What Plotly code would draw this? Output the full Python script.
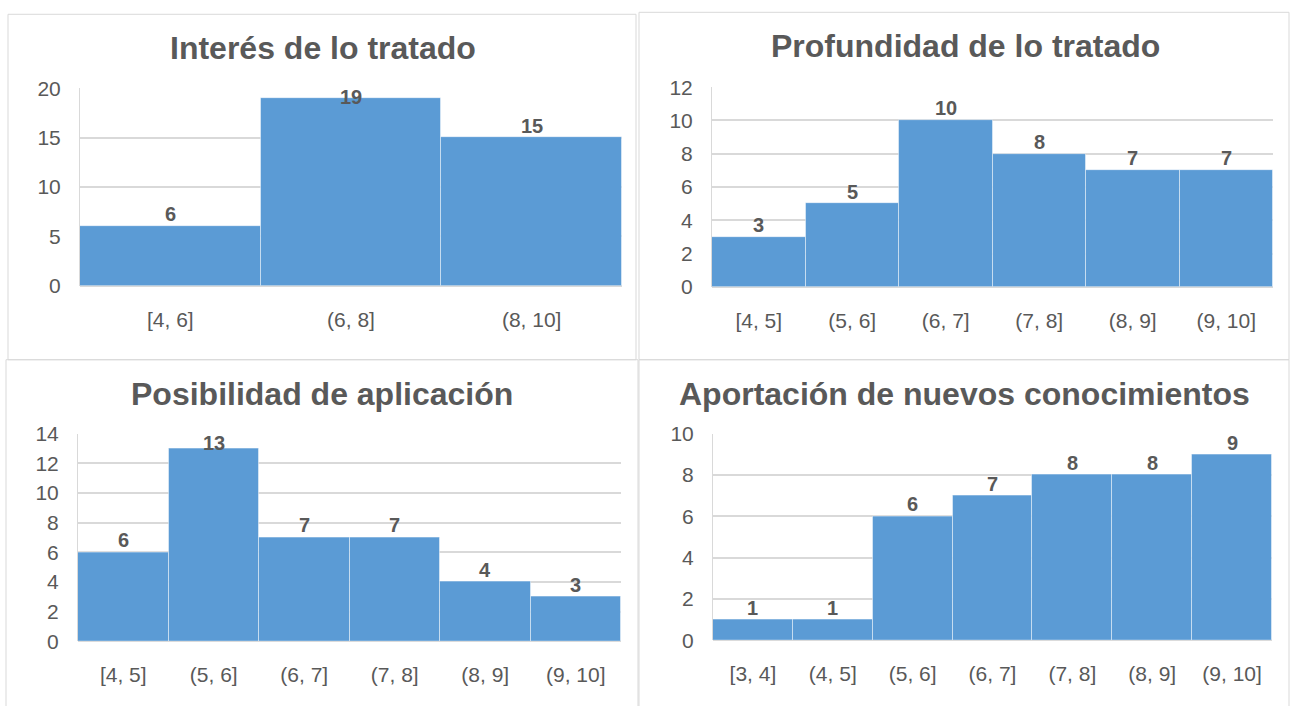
import plotly.graph_objects as go

W, H = 1290, 706

# ---- data ----
interes_cats = ["[4, 6]", "(6, 8]", "(8, 10]"]
interes_vals = [6, 19, 15]

prof_cats = ["[4, 5]", "(5, 6]", "(6, 7]", "(7, 8]", "(8, 9]", "(9, 10]"]
prof_vals = [3, 5, 10, 8, 7, 7]

posib_cats = ["[4, 5]", "(5, 6]", "(6, 7]", "(7, 8]", "(8, 9]", "(9, 10]"]
posib_vals = [6, 13, 7, 7, 4, 3]

aport_cats = ["[3, 4]", "(4, 5]", "(5, 6]", "(6, 7]", "(7, 8]", "(8, 9]", "(9, 10]"]
aport_vals = [1, 1, 6, 7, 8, 8, 9]

titles = ["Interés de lo tratado", "Profundidad de lo tratado",
          "Posibilidad de aplicación", "Aportación de nuevos conocimientos"]
y_max = [20, 12, 14, 10]
y_step = [5, 2, 2, 2]

# ---- layout (pixels in the final picture) ----
# vertical compensation for the capture (observed: y_shown = 10.7 + 0.969 * y_page)
V_OFF, V_SC = 10.7, 0.969


def page_y(py):
    return (py - V_OFF) / V_SC


plot_boxes = [  # x0, x1, ytop, ybottom
    (80, 622, 87, 285),
    (712, 1273, 86, 286),
    (78, 621, 433, 641),
    (713, 1272, 433, 640),
]
panel_boxes = [
    (8, 636, 13, 359),
    (639, 1289, 11, 359),
    (6, 638, 359, 720),
    (639, 1289, 359, 720),
]
title_pos = [(323, 47), (965, 45), (322, 393), (964, 393)]

FONT = "Liberation Sans, Arial, sans-serif"
GREY = "#595959"
GRID = "#d9d9d9"
BAR = "#5B9BD5"

series = [(interes_cats, interes_vals), (prof_cats, prof_vals),
          (posib_cats, posib_vals), (aport_cats, aport_vals)]

fig = go.Figure()
layout = dict(
    width=W, height=H, margin=dict(l=0, r=0, t=0, b=0),
    paper_bgcolor="white", plot_bgcolor="white",
    showlegend=False, bargap=0, font=dict(family=FONT, color=GREY),
)
shapes = []
annotations = []

for i, ((cats, vals), (x0, x1, yt, yb)) in enumerate(zip(series, plot_boxes)):
    n = i + 1
    xa = "x" if n == 1 else f"x{n}"
    ya = "y" if n == 1 else f"y{n}"
    pyt, pyb = page_y(yt), page_y(yb)
    fig.add_trace(go.Bar(
        x=cats, y=vals, xaxis=xa, yaxis=ya,
        marker=dict(color=BAR, line=dict(color="rgba(255,255,255,0.45)", width=1)),
        hoverinfo="x+y",
    ))
    layout[f"xaxis{'' if n == 1 else n}"] = dict(
        domain=[x0 / W, x1 / W], anchor=ya, type="category",
        showgrid=False, showline=False, zeroline=False,
        ticks="outside", ticklen=15, tickcolor="rgba(0,0,0,0)",
        tickfont=dict(size=21, color=GREY, family=FONT),
        fixedrange=True,
    )
    layout[f"yaxis{'' if n == 1 else n}"] = dict(
        domain=[1 - pyb / H, 1 - pyt / H], anchor=xa,
        range=[0, y_max[i]], dtick=y_step[i], tick0=0,
        showgrid=True, gridcolor=GRID, gridwidth=1.5,
        zeroline=True, zerolinecolor=GRID, zerolinewidth=1.5,
        showline=True, linecolor=GRID, linewidth=1,
        ticks="outside", ticklen=14, tickcolor="rgba(0,0,0,0)",
        tickfont=dict(size=21, color=GREY, family=FONT),
        fixedrange=True,
    )
    # data labels (Excel-like: above bar, pushed down when hitting the top)
    ppu = (pyb - pyt) / y_max[i]
    for c, v in zip(cats, vals):
        yl = min(v + 12.5 / ppu, y_max[i] - 9.5 / ppu)
        annotations.append(dict(
            x=c, y=yl, xref=xa, yref=ya, text=f"<b>{v}</b>", showarrow=False,
            yanchor="middle", xanchor="center",
            font=dict(size=20, color=GREY, family=FONT),
        ))
    # panel border
    px0, px1, py0, py1 = panel_boxes[i]
    shapes.append(dict(
        type="rect", xref="paper", yref="paper",
        x0=px0 / W, x1=px1 / W,
        y0=1 - page_y(py1) / H, y1=1 - page_y(py0) / H,
        line=dict(color=GRID, width=1), fillcolor="rgba(0,0,0,0)", layer="below",
    ))
    tx, ty = title_pos[i]
    annotations.append(dict(
        x=tx / W, y=1 - page_y(ty) / H, xref="paper", yref="paper",
        text=f"<b>{titles[i]}</b>", showarrow=False,
        xanchor="center", yanchor="middle",
        font=dict(size=32, color=GREY, family=FONT),
    ))

layout["shapes"] = shapes
layout["annotations"] = annotations
fig.update_layout(**layout)
fig.write_html(
    "out.html",
    config={"displayModeBar": False},
    post_script="document.body.style.margin='0';document.body.style.overflow='hidden';",
)
